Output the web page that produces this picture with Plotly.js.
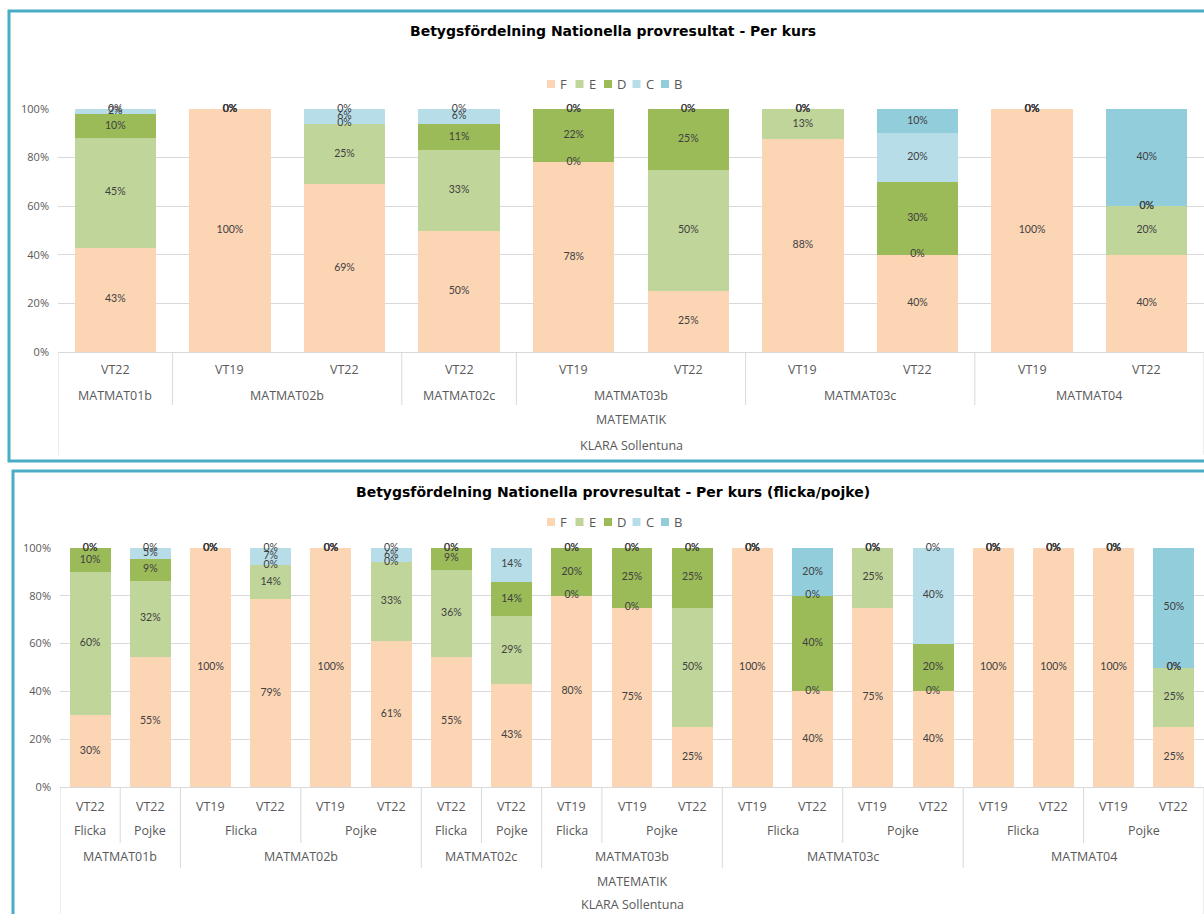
<!DOCTYPE html>
<html><head><meta charset="utf-8">
<script src="https://cdn.plot.ly/plotly-3.0.1.min.js"></script>
<style>html,body{margin:0;padding:0;background:#fff}#chart{width:1204px;height:914px}</style>
</head><body><div id="chart"></div>
<script>
// ---------- DATA ----------
const grades = ['F', 'E', 'D', 'C', 'B'];
const gradeColors = ['#FCD5B5', '#C0D59A', '#9BBB59', '#B7DEE8', '#92CDDC'];
const subjectLabel = 'MATEMATIK';
const schoolLabel = 'KLARA Sollentuna';

const topTitle = 'Betygsfördelning Nationella provresultat - Per kurs';
const topCourse = ['MATMAT01b', 'MATMAT02b', 'MATMAT02b', 'MATMAT02c', 'MATMAT03b', 'MATMAT03b', 'MATMAT03c', 'MATMAT03c', 'MATMAT04', 'MATMAT04'];
const topTerm = ['VT22', 'VT19', 'VT22', 'VT22', 'VT19', 'VT22', 'VT19', 'VT22', 'VT19', 'VT22'];
const topF = [43, 100, 69, 50, 78, 25, 87.5, 40, 100, 40];
const topE = [45, 0, 25, 33, 0, 50, 12.5, 0, 0, 20];
const topD = [10, 0, 0, 11, 22, 25, 0, 30, 0, 0];
const topC = [2, 0, 6, 6, 0, 0, 0, 20, 0, 0];
const topB = [0, 0, 0, 0, 0, 0, 0, 10, 0, 40];

const botTitle = 'Betygsfördelning Nationella provresultat - Per kurs (flicka/pojke)';
const botCourse = ['MATMAT01b', 'MATMAT01b', 'MATMAT02b', 'MATMAT02b', 'MATMAT02b', 'MATMAT02b', 'MATMAT02c', 'MATMAT02c', 'MATMAT03b', 'MATMAT03b', 'MATMAT03b', 'MATMAT03c', 'MATMAT03c', 'MATMAT03c', 'MATMAT03c', 'MATMAT04', 'MATMAT04', 'MATMAT04', 'MATMAT04'];
const botSex = ['Flicka', 'Pojke', 'Flicka', 'Flicka', 'Pojke', 'Pojke', 'Flicka', 'Pojke', 'Flicka', 'Pojke', 'Pojke', 'Flicka', 'Flicka', 'Pojke', 'Pojke', 'Flicka', 'Flicka', 'Pojke', 'Pojke'];
const botTerm = ['VT22', 'VT22', 'VT19', 'VT22', 'VT19', 'VT22', 'VT22', 'VT22', 'VT19', 'VT19', 'VT22', 'VT19', 'VT22', 'VT19', 'VT22', 'VT19', 'VT22', 'VT19', 'VT22'];
const botF = [30, 54.5, 100, 78.6, 100, 61, 54.5, 42.9, 80, 75, 25, 100, 40, 75, 40, 100, 100, 100, 25];
const botE = [60, 31.8, 0, 14.3, 0, 33, 36.4, 28.6, 0, 0, 50, 0, 0, 25, 0, 0, 0, 0, 25];
const botD = [10, 9.1, 0, 0, 0, 0, 9.1, 14.3, 20, 25, 25, 0, 40, 0, 20, 0, 0, 0, 0];
const botC = [0, 4.5, 0, 7.1, 0, 6, 0, 14.3, 0, 0, 0, 0, 0, 0, 40, 0, 0, 0, 0];
const botB = [0, 0, 0, 0, 0, 0, 0, 0, 0, 0, 0, 0, 20, 0, 0, 0, 0, 0, 50];

const yTicks = [0, 20, 40, 60, 80, 100];

// ---------- LAYOUT HELPERS ----------
const W = 1204, H = 914;
const px = v => v / W;
const py = v => 1 - v / H;
const FONT = '"Open Sans", "DejaVu Sans", sans-serif';
const LABEL_FONT = 'Lato, "Open Sans", sans-serif';
const TITLE_FONT = '"DejaVu Sans", "Open Sans", sans-serif';
const GREY = '#595959';
const SEP = '#D9D9D9';
const BORDER = '#4BACC6';

const panels = [
  {
    title: topTitle, course: topCourse, term: topTerm, sex: null,
    series: [topF, topE, topD, topC, topB],
    xa: 'x', ya: 'y', xl: 'xaxis', yl: 'yaxis',
    box: {x0: 9, y0: 11, y1: 461},
    titleY: 31, legendY: 84, plotTop: 109, plotBot: 352, plotLeft: 58,
    rows: {term: 369, course: 395, subj: 420, school: 445},
    ends: {course: 405, outer: 455}, bargap: 0.29
  },
  {
    title: botTitle, course: botCourse, term: botTerm, sex: botSex,
    series: [botF, botE, botD, botC, botB],
    xa: 'x2', ya: 'y2', xl: 'xaxis2', yl: 'yaxis2',
    box: {x0: 13, y0: 471, y1: 940},
    titleY: 492, legendY: 522, plotTop: 548, plotBot: 787, plotLeft: 60,
    rows: {term: 806, sex: 830, course: 856, subj: 881, school: 904},
    ends: {sex: 843, course: 868, outer: 930}, bargap: 0.32
  }
];

function runs(keys) {
  const out = [];
  let s = 0;
  for (let i = 1; i <= keys.length; i++) {
    if (i === keys.length || keys[i] !== keys[s]) { out.push({start: s, end: i - 1}); s = i; }
  }
  return out;
}

const traces = [];
const shapes = [];
const annotations = [];
const layout = {
  width: W, height: H,
  margin: {l: 0, r: 0, t: 0, b: 0},
  paper_bgcolor: '#ffffff', plot_bgcolor: '#ffffff',
  barmode: 'stack', showlegend: false,
  font: {family: FONT, color: GREY},
  shapes: shapes, annotations: annotations
};

panels.forEach(p => {
  const n = p.course.length;
  const idx = p.course.map((_, i) => i);
  // bars
  p.series.forEach((vals, g) => {
    traces.push({
      type: 'bar', x: idx, y: vals, name: grades[g], xaxis: p.xa, yaxis: p.ya,
      width: idx.map(() => 1 - p.bargap),
      marker: {color: gradeColors[g], line: {width: 0}},
      hovertemplate: grades[g] + ': %{y}%<extra></extra>'
    });
  });
  // data labels (including 0% labels at segment boundaries, as in Excel)
  const base = idx.map(() => 0);
  p.series.forEach((vals, g) => {
    traces.push({
      type: 'scatter', mode: 'text', x: idx, xaxis: p.xa, yaxis: p.ya,
      y: vals.map((v, i) => base[i] + v / 2),
      text: vals.map(v => Math.round(v) + '%'),
      textposition: 'middle center', cliponaxis: false,
      textfont: {family: LABEL_FONT, size: 10.5, color: '#404040'},
      hoverinfo: 'skip', showlegend: false
    });
    vals.forEach((v, i) => { base[i] += v; });
  });
  // axes
  layout[p.xl] = {
    domain: [px(p.plotLeft), 1], range: [-0.5, n - 0.5], anchor: p.ya,
    showticklabels: false, showgrid: false, zeroline: false, showline: false, ticks: '', fixedrange: true
  };
  layout[p.yl] = {
    domain: [py(p.plotBot), py(p.plotTop)], range: [0, 100], anchor: p.xa,
    tickvals: yTicks, ticktext: yTicks.map(v => v + '%'),
    tickfont: {family: FONT, size: 11, color: GREY}, ticklabelstandoff: 8,
    showgrid: true, gridcolor: SEP, gridwidth: 1, zeroline: true, zerolinecolor: SEP, zerolinewidth: 1,
    showline: false, ticks: '', fixedrange: true
  };
  // panel border
  shapes.push({type: 'rect', xref: 'paper', yref: 'paper', x0: px(p.box.x0), x1: px(W + 20), y0: py(p.box.y1), y1: py(p.box.y0),
    line: {color: BORDER, width: 3}, fillcolor: 'rgba(0,0,0,0)', layer: 'below'});
  // title
  annotations.push({xref: 'paper', yref: 'paper', x: px(613), y: py(p.titleY), xanchor: 'center', yanchor: 'middle',
    text: '<b>' + p.title + '</b>', showarrow: false, font: {family: TITLE_FONT, size: 14, color: '#000000'}});
  // legend (custom, to match Excel's compact legend)
  grades.forEach((g, k) => {
    const cx = 551 + k * 28.5;
    shapes.push({type: 'rect', xref: 'paper', yref: 'paper', x0: px(cx - 4), x1: px(cx + 4), y0: py(p.legendY + 4), y1: py(p.legendY - 4),
      line: {width: 0}, fillcolor: gradeColors[k]});
    annotations.push({xref: 'paper', yref: 'paper', x: px(cx + 7), y: py(p.legendY), xanchor: 'left', yanchor: 'middle',
      text: g, showarrow: false, font: {family: FONT, size: 13, color: GREY}});
  });
  // category hierarchy labels
  const labFont = {family: FONT, size: 12.5, color: GREY};
  const addLab = (x, yPix, t) => annotations.push({xref: p.xa, yref: 'paper', x: x, y: py(yPix), xanchor: 'center', yanchor: 'middle',
    text: t, showarrow: false, font: labFont});
  p.term.forEach((t, i) => addLab(i, p.rows.term, t));
  const courseRuns = runs(p.course);
  courseRuns.forEach(r => addLab((r.start + r.end) / 2, p.rows.course, p.course[r.start]));
  addLab((n - 1) / 2, p.rows.subj, subjectLabel);
  addLab((n - 1) / 2, p.rows.school, schoolLabel);
  const vline = (x, yEnd) => shapes.push({type: 'line', xref: p.xa, yref: 'paper', x0: x, x1: x, y0: py(p.plotBot), y1: py(yEnd),
    line: {color: SEP, width: 1}});
  const courseStarts = new Set(courseRuns.map(r => r.start));
  if (p.sex) {
    const sexRuns = runs(p.course.map((c, i) => c + '|' + p.sex[i]));
    sexRuns.forEach(r => {
      addLab((r.start + r.end) / 2, p.rows.sex, p.sex[r.start]);
      if (r.start > 0 && !courseStarts.has(r.start)) vline(r.start - 0.5, p.ends.sex);
    });
  }
  courseRuns.forEach(r => { if (r.start > 0) vline(r.start - 0.5, p.ends.course); });
  vline(-0.5, p.ends.outer);
  vline(n - 0.5, p.ends.outer);
});

Plotly.newPlot('chart', traces, layout, {displayModeBar: false});
</script>
</body></html>
